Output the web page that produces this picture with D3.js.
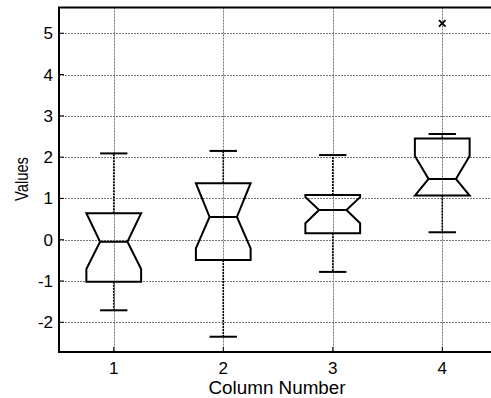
<!DOCTYPE html>
<html>
<head>
<meta charset="utf-8">
<script src="https://cdn.jsdelivr.net/npm/d3@7"></script>
<style>
  body { margin: 0; background: #fff; }
  text { font-family: "Liberation Sans", Arial, sans-serif; fill: #000; }
</style>
</head>
<body>
<svg id="chart" width="491" height="398"></svg>
<script>
// box statistics
const columns   = [1, 2, 3, 4];
const q1        = [-1.02, -0.49, 0.155, 1.07];
const medians   = [-0.05, 0.55, 0.72, 1.47];
const q3        = [0.64, 1.37, 1.08, 2.45];
const notchLo   = [-0.71, -0.21, 0.40, 1.07];
const notchHi   = [0.64, 1.37, 1.03, 2.03];
const whiskerLo = [-1.71, -2.35, -0.78, 0.18];
const whiskerHi = [2.09, 2.15, 2.05, 2.56];
const outliers  = [{ col: 4, v: 5.24 }];
const yTicks    = [-2, -1, 0, 1, 2, 3, 4, 5];

const svg = d3.select("#chart");
const plotL = 59, plotR = 497, plotT = 7.5, plotB = 352;

const x = d3.scaleLinear().domain([0.5, 4.5]).range([plotL, plotR]);
const y = d3.scaleLinear().domain([-2.72, 5.624]).range([plotB, plotT]);

// grid
const grid = svg.append("g").attr("stroke", "#777").attr("stroke-width", 1)
  .attr("stroke-dasharray", "2,1");
grid.selectAll(".gy").data(yTicks).enter().append("line")
  .attr("x1", plotL).attr("x2", plotR)
  .attr("y1", d => Math.round(y(d)) + 0.5).attr("y2", d => Math.round(y(d)) + 0.5);
grid.selectAll(".gx").data(columns).enter().append("line")
  .attr("y1", plotT).attr("y2", plotB)
  .attr("x1", d => Math.round(x(d)) + 0.5).attr("x2", d => Math.round(x(d)) + 0.5);

const boxW = 0.25, notchW = 0.125, capW = 0.125;

const boxes = svg.append("g");
columns.forEach((c, i) => {
  const g = boxes.append("g").attr("stroke", "#000").attr("fill", "none");
  // whiskers
  g.append("line")
    .attr("x1", x(c)).attr("x2", x(c))
    .attr("y1", y(q3[i])).attr("y2", y(whiskerHi[i]))
    .attr("stroke-width", 1.6).attr("stroke-dasharray", "2,1");
  g.append("line")
    .attr("x1", x(c)).attr("x2", x(c))
    .attr("y1", y(q1[i])).attr("y2", y(whiskerLo[i]))
    .attr("stroke-width", 1.6).attr("stroke-dasharray", "2,1");
  [whiskerHi[i], whiskerLo[i]].forEach(v => {
    g.append("line")
      .attr("x1", x(c - capW)).attr("x2", x(c + capW))
      .attr("y1", y(v)).attr("y2", y(v))
      .attr("stroke-width", 2);
  });
  // notched box
  const pts = [
    [c - boxW, q1[i]], [c - boxW, notchLo[i]], [c - notchW, medians[i]],
    [c - boxW, notchHi[i]], [c - boxW, q3[i]], [c + boxW, q3[i]],
    [c + boxW, notchHi[i]], [c + notchW, medians[i]], [c + boxW, notchLo[i]],
    [c + boxW, q1[i]]
  ];
  g.append("path")
    .attr("d", d3.line().x(d => x(d[0])).y(d => y(d[1]))(pts) + "Z")
    .attr("stroke-width", 2).attr("stroke-linejoin", "miter");
  g.append("line")
    .attr("x1", x(c - notchW)).attr("x2", x(c + notchW))
    .attr("y1", y(medians[i])).attr("y2", y(medians[i]))
    .attr("stroke-width", 2);
});

// outliers
const sz = 3.3;
svg.append("g").selectAll("path").data(outliers).enter().append("path")
  .attr("d", d => {
    const cx = x(d.col), cy = y(d.v);
    return `M${cx - sz},${cy - sz}L${cx + sz},${cy + sz}M${cx - sz},${cy + sz}L${cx + sz},${cy - sz}`;
  })
  .attr("stroke", "#000").attr("stroke-width", 1.8);

// axes frame
const frame = svg.append("g").attr("stroke", "#000").attr("stroke-width", 2).attr("fill", "none");
frame.append("rect").attr("x", plotL).attr("y", plotT)
  .attr("width", plotR - plotL).attr("height", plotB - plotT);

// inward ticks
frame.selectAll(".ty").data(yTicks).enter().append("line")
  .attr("x1", plotL).attr("x2", plotL + 5)
  .attr("y1", d => y(d)).attr("y2", d => y(d)).attr("stroke-width", 1);
frame.selectAll(".tx").data(columns).enter().append("line")
  .attr("y1", plotB).attr("y2", plotB - 5)
  .attr("x1", d => x(d)).attr("x2", d => x(d)).attr("stroke-width", 1);

// tick labels
svg.append("g").selectAll("text").data(yTicks).enter().append("text")
  .attr("x", 53).attr("y", d => y(d)).attr("dy", "0.35em")
  .attr("text-anchor", "end").attr("font-size", 17)
  .text(d => String(d));
svg.append("g").selectAll("text").data(columns).enter().append("text")
  .attr("x", d => x(d)).attr("y", 374)
  .attr("text-anchor", "middle").attr("font-size", 17)
  .text(d => String(d));

// axis labels
svg.append("text")
  .attr("x", 277).attr("y", 394)
  .attr("text-anchor", "middle").attr("font-size", 18)
  .attr("textLength", 137).attr("lengthAdjust", "spacingAndGlyphs")
  .text("Column Number");
svg.append("text")
  .attr("transform", "translate(28,179) rotate(-90)")
  .attr("text-anchor", "middle").attr("font-size", 19)
  .attr("textLength", 44).attr("lengthAdjust", "spacingAndGlyphs")
  .text("Values");
</script>
</body>
</html>
